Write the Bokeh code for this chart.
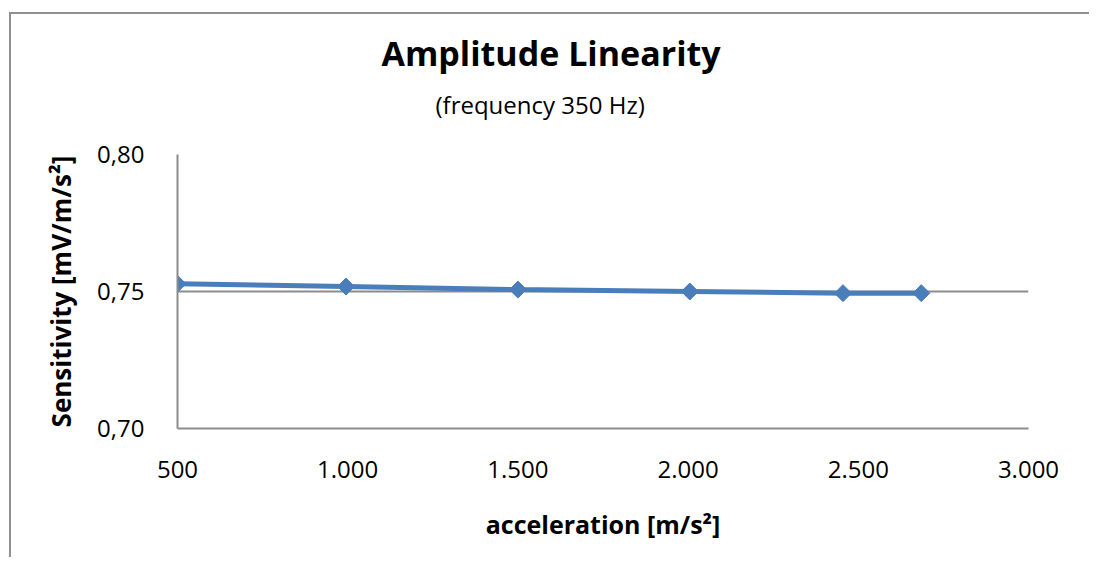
import numpy as np
from bokeh.plotting import figure
from bokeh.models import Range1d, FixedTicker, Title
from bokeh.embed import file_html
from bokeh.resources import INLINE

# ---- data ----
acceleration = [500, 995, 1500, 2005, 2455, 2685]
sensitivity = [0.7528, 0.7518, 0.7507, 0.7500, 0.7494, 0.7494]
x_ticks = [500, 1000, 1500, 2000, 2500, 3000]
x_tick_labels = ["500", "1.000", "1.500", "2.000", "2.500", "3.000"]
y_ticks = [0.70, 0.75, 0.80]
y_tick_labels = ["0,70", "0,75", "0,80"]
title_text = "Amplitude Linearity"
subtitle_text = "(frequency 350 Hz)"
x_label = "acceleration [m/s\u00b2]"
y_label = "Sensitivity [mV/m/s\u00b2]"

FONT = "Open Sans"
GRID = "#8c8c8c"
BLUE = "#4A7EBB"

p = figure(width=1080, height=545, output_backend="svg", toolbar_location=None,
           x_range=Range1d(500, 3000), y_range=Range1d(0.70, 0.80),
           min_border_left=166, min_border_right=63, min_border_top=140,
           min_border_bottom=131)
p.margin = (12, 0, 0, 9)
p.styles = {"border-left": "2px solid #909090", "border-top": "2px solid #909090"}
p.outline_line_color = None
p.background_fill_color = "white"
p.border_fill_color = "white"

p.line(acceleration, sensitivity, line_color=BLUE, line_width=5)
p.scatter(acceleration, sensitivity, marker="square", angle=np.pi / 4, size=12,
          fill_color=BLUE, line_color=BLUE)

# axes
p.xaxis.ticker = FixedTicker(ticks=x_ticks)
p.xaxis.major_label_overrides = {t: l for t, l in zip(x_ticks, x_tick_labels)}
p.yaxis.ticker = FixedTicker(ticks=y_ticks)
p.yaxis.major_label_overrides = {t: l for t, l in zip(y_ticks, y_tick_labels)}

for ax in (p.xaxis, p.yaxis):
    ax.major_tick_line_color = None
    ax.minor_tick_line_color = None
    ax.major_tick_out = 0
    ax.major_tick_in = 0
    ax.major_label_text_font = FONT
    ax.major_label_text_font_size = "24px"
    ax.major_label_text_color = "black"
    ax.axis_label_text_font = FONT
    ax.axis_label_text_font_style = "bold"
    ax.axis_label_text_color = "black"

p.xaxis.axis_label_text_font_size = "25px"
p.yaxis.axis_label_text_font_size = "26px"
p.xaxis.axis_line_color = GRID
p.xaxis.axis_line_width = 2
p.yaxis.axis_line_color = GRID
p.yaxis.axis_line_width = 2
p.xaxis.axis_label = x_label
p.yaxis.axis_label = y_label
p.yaxis.major_label_standoff = 33
p.xaxis.major_label_standoff = 32
p.yaxis.axis_label_standoff = 15
p.xaxis.axis_label_standoff = 26

p.xgrid.grid_line_color = None
p.ygrid.ticker = FixedTicker(ticks=y_ticks)
p.ygrid.grid_line_color = GRID
p.ygrid.grid_line_width = 2

# titles
sub = Title(text=subtitle_text, align="left", offset=258, text_font=FONT,
            text_font_size="24px", text_font_style="normal", text_color="black",
            standoff=67)
main = Title(text=title_text, align="left", offset=204, text_font=FONT,
             text_font_size="34px", text_font_style="bold", text_color="black",
             standoff=-46)
p.add_layout(sub, "above")
p.add_layout(main, "above")

open("out.html", "w").write(file_html(p, INLINE))
